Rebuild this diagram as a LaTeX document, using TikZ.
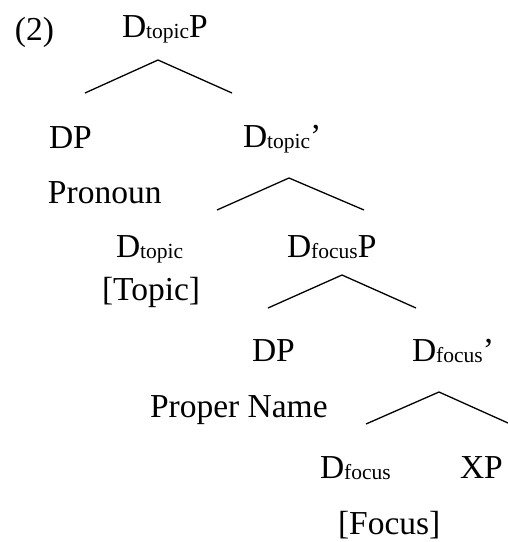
\documentclass[tikz,border=0pt]{standalone}
\usepackage{fontspec}
\setmainfont{Liberation Serif}
\newcommand{\mysub}[1]{\raisebox{-1.5pt}{\fontsize{21.5}{22}\selectfont #1}}
\begin{document}
\begin{tikzpicture}[x=1pt,y=-1pt,
  lbl/.style={anchor=base west,inner sep=0pt,outer sep=0pt,font=\fontsize{33.5}{36}\selectfont},
  branch/.style={line width=1.3pt,line join=miter}]
\useasboundingbox (0,0) rectangle (508,542);
% labels
\node[lbl] (ex) at (15,40) {(2)};
\node[lbl] (root) at (122,37) {D\mysub{topic}P};
\node[lbl] (dp1) at (49,148) {DP};
\node[lbl] (dtbar) at (243,147) {D\mysub{topic}’};
\node[lbl] (pron) at (48,203) {Pronoun};
\node[lbl] (dt) at (116,257) {D\mysub{topic}};
\node[lbl] (dfp) at (287,257) {D\mysub{focus}P};
\node[lbl] (topicf) at (102,300) {[Topic]};
\node[lbl] (dp2) at (252,361) {DP};
\node[lbl] (dfbar) at (412,361) {D\mysub{focus}’};
\node[lbl] (pname) at (150,417) {Proper Name};
\node[lbl] (df) at (320,478) {D\mysub{focus}};
\node[lbl] (xp) at (460,478) {XP};
\node[lbl] (focusf) at (338,534) {[Focus]};
% branch coordinates
\coordinate (a1) at (158,60);  \coordinate (l1) at (85,93);  \coordinate (r1) at (232,93);
\coordinate (a2) at (289,178); \coordinate (l2) at (217,210); \coordinate (r2) at (364,210);
\coordinate (a3) at (342,275); \coordinate (l3) at (268,308); \coordinate (r3) at (416,308);
\coordinate (a4) at (439,392); \coordinate (l4) at (366,424); \coordinate (r4) at (508,423);
\draw[branch] (l1) -- (a1) -- (r1);
\draw[branch] (l2) -- (a2) -- (r2);
\draw[branch] (l3) -- (a3) -- (r3);
\draw[branch] (l4) -- (a4) -- (r4);
\end{tikzpicture}
\end{document}
